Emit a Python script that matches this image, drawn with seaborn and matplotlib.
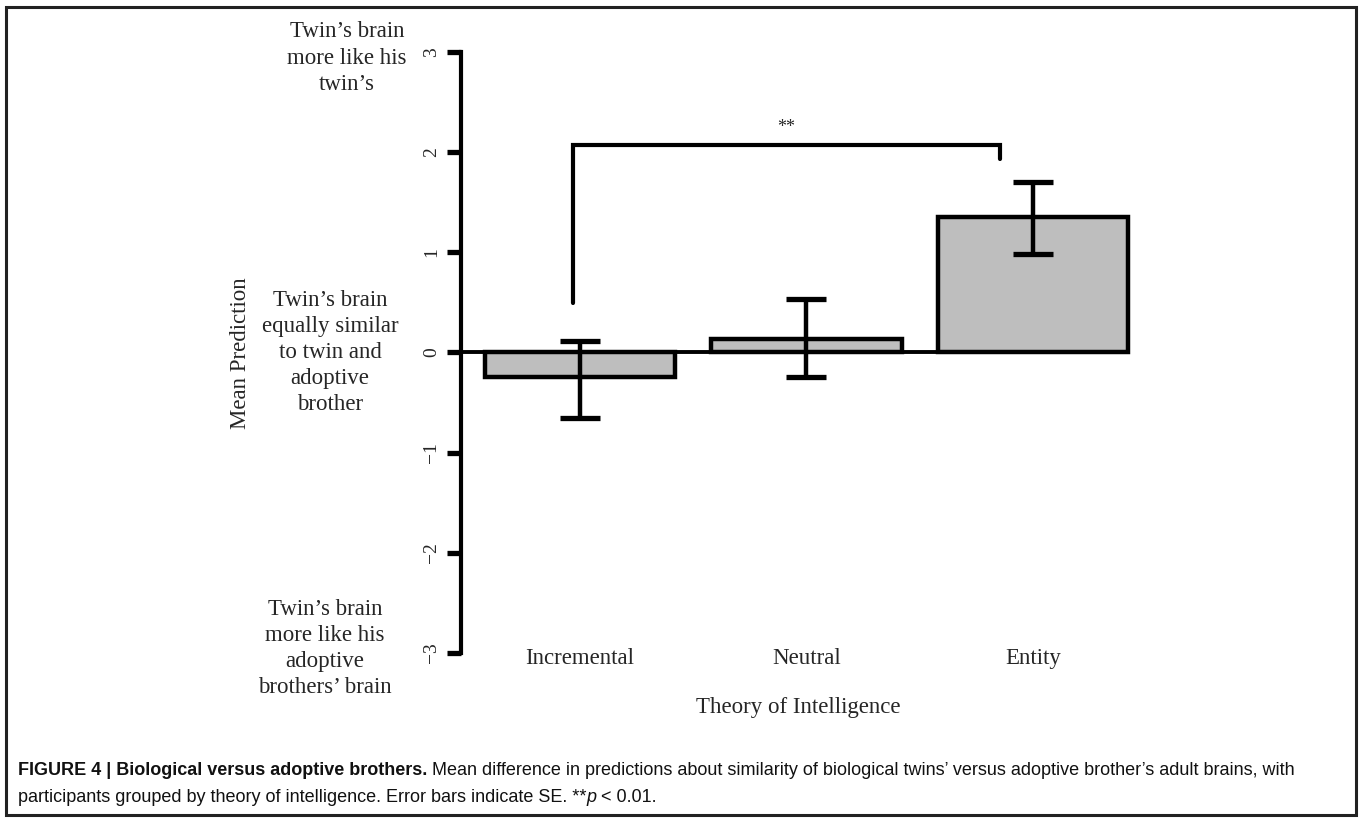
import matplotlib
matplotlib.use("Agg")
import matplotlib.pyplot as plt
import matplotlib.patches as mpatches
import matplotlib.transforms as mtransforms
import seaborn as sns
import pandas as pd

# ---- data ----
categories = ["Incremental", "Neutral", "Entity"]
means = [-0.24, 0.13, 1.35]
err_low = [-0.65, -0.24, 0.98]
err_high = [0.11, 0.53, 1.70]
y_ticks = [-3, -2, -1, 0, 1, 2, 3]
side_texts = [
    "Twin\u2019s brain\nmore like his\ntwin\u2019s",
    "Twin\u2019s brain\nequally similar\nto twin and\nadoptive\nbrother",
    "Twin\u2019s brain\nmore like his\nadoptive\nbrothers\u2019 brain",
]
side_levels = [2.94, 0, -2.955]
sig_pair = (0, 2)
sig_label = "**"

sns.set_theme(style="white")
plt.rcParams["font.family"] = ["Liberation Serif", "DejaVu Serif"]

W, H = 1362, 822
fig = plt.figure(figsize=(W / 100, H / 100), dpi=100)

# axes placement in pixels
x_min, x_max = -0.525, 2.5
ax_left_px = 461
px_per_unit = 226.5
ax_right_px = ax_left_px + (x_max - x_min) * px_per_unit
ax_top_px, ax_bot_px = 52, 653
ax = fig.add_axes([ax_left_px / W, (H - ax_bot_px) / H,
                   (ax_right_px - ax_left_px) / W, (ax_bot_px - ax_top_px) / H])

df = pd.DataFrame({"theory": categories, "mean": means})
sns.barplot(data=df, x="theory", y="mean", order=categories, color="#BEBEBE",
            saturation=1, edgecolor="black", linewidth=3.2, width=0.84, ax=ax, zorder=2)

xpos = list(range(len(categories)))
yerr = [[m - lo for m, lo in zip(means, err_low)], [hi - m for m, hi in zip(means, err_high)]]
ax.errorbar(xpos, means, yerr=yerr, fmt="none", ecolor="black", elinewidth=3.2,
            capsize=14.5, capthick=3.8, zorder=4)

ax.set_xlim(x_min, x_max)
ax.set_ylim(-3, 3)
ax.hlines(0, x_min, 2.353, color="black", lw=2.8, zorder=3)

# significance bracket
xl, xr = sig_pair[0] - 0.03, sig_pair[1] - 0.146
ax.plot([xl, xl, xr, xr], [0.49, 2.07, 2.07, 1.93], color="black", lw=3,
        solid_joinstyle="miter", clip_on=False, zorder=5)
ax.text((xl + xr) / 2, 2.16, sig_label, ha="center", va="bottom", fontsize=13)

# spines / ticks
for s in ["top", "right", "bottom"]:
    ax.spines[s].set_visible(False)
ax.spines["left"].set_linewidth(3)
ax.spines["left"].set_color("black")
ax.spines["left"].set_bounds(-3, 3)
ax.set_yticks(y_ticks)
ax.set_yticklabels([str(t).replace("-", "\u2212") for t in y_ticks], rotation=90,
                   va="center", fontsize=14)
ax.tick_params(axis="y", direction="out", length=10, width=3.8, color="black",
               left=True, pad=5)
ax.set_xticks([])
ax.set_xlabel("")
ax.set_ylabel("")
ax.grid(False)
ax.patch.set_alpha(0)

for i, c in enumerate(categories):
    ax.text(i, -3.05, c, ha="center", va="center", fontsize=16.5)

# side annotations
blend = mtransforms.blended_transform_factory(fig.transFigure, ax.transData)
side_x = [347, 330, 325]
for txt, yv, sx in zip(side_texts, side_levels, side_x):
    fig.text(sx / W, yv, txt, fontsize=16.5, ha="center", va="center", linespacing=1.32,
             transform=blend)

fig.text(240 / W, 1 - 353 / H, "Mean Prediction", rotation=90, ha="center", va="center",
         fontsize=16.5)
fig.text(798 / W, 1 - 707 / H, "Theory of Intelligence", ha="center", va="center",
         fontsize=16.5)

# border
fig.patches.append(mpatches.Rectangle((6 / W, 7 / H), 1350 / W, 808 / H, fill=False,
                                      lw=2.2, edgecolor="#222222", transform=fig.transFigure,
                                      figure=fig))

# caption with mixed styles
renderer = fig.canvas.get_renderer()
cap_font = ["Liberation Sans", "DejaVu Sans"]
cap_size = 13.0


def runs(x_px, y_px, parts):
    x = x_px
    for txt, kw in parts:
        t = fig.text(x / W, 1 - y_px / H, txt, fontsize=cap_size, family=cap_font,
                     va="center", ha="left", color="#111111", **kw)
        bb = t.get_window_extent(renderer)
        x += bb.width


runs(18, 770, [
    ("FIGURE 4 | Biological versus adoptive brothers.", {"fontweight": "bold"}),
    (" Mean difference in predictions about similarity of biological twins\u2019 versus adoptive brother\u2019s adult brains, with", {}),
])
runs(18, 797, [
    ("participants grouped by theory of intelligence. Error bars indicate SE. **", {}),
    ("p", {"style": "italic"}),
    (" < 0.01.", {}),
])

fig.savefig("out.png", dpi=100)
